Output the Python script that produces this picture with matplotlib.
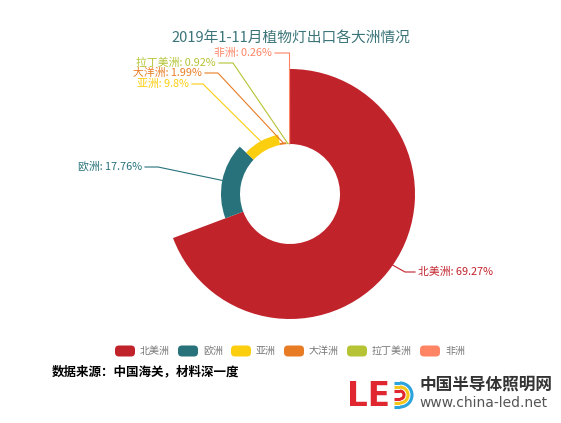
import matplotlib
matplotlib.use('Agg')
import matplotlib.pyplot as plt
from matplotlib.patches import Wedge, FancyBboxPatch, Arc
import numpy as np

plt.rcParams['font.family'] = ['Noto Sans CJK SC', 'DejaVu Sans']

# data
names = ['北美洲', '欧洲', '亚洲', '大洋洲', '拉丁美洲', '非洲']
values = [69.27, 17.76, 9.8, 1.99, 0.92, 0.26]
colors = ['#C1232B', '#27727B', '#FCCE10', '#E87C25', '#B5C334', '#FE8463']
title = '2019年1-11月植物灯出口各大洲情况'
source = '数据来源：中国海关，材料深一度'

# layout in pixels (y goes down)
W, H = 561, 423
cx, cy = 290, 194
r_in, r_out = 50, 125
# elbow of each leader line and the end of its horizontal part
elbows = [(405, 272), (158, 167), (203, 84), (218, 73), (233, 63), (289.5, 53)]
ends = [415, 145, 192, 205, 219, 275]

fig = plt.figure(figsize=(W / 100, H / 100), dpi=100)
ax = fig.add_axes([0, 0, 1, 1])
ax.set_xlim(0, W)
ax.set_ylim(H, 0)
ax.axis('off')

total = sum(values)
vmin, vmax = min(values), max(values)
start = 0.0
for i, v in enumerate(values):
    span = 360.0 * v / total
    r = r_in + (r_out - r_in) * (v - vmin) / (vmax - vmin)
    if r > r_in:
        ax.add_patch(Wedge((cx, cy), r, -90 + start, -90 + start + span,
                           width=r - r_in, facecolor=colors[i], edgecolor='none'))
    mid = np.radians(start + span / 2)
    sx = cx + r * np.sin(mid)
    sy = cy - r * np.cos(mid)
    ex, ey = elbows[i]
    ax.plot([sx, ex, ends[i]], [sy, ey, ey], color=colors[i], lw=0.8)
    pct = 100.0 * v / total
    txt = '%s: %s%%' % (names[i], ('%.2f' % pct).rstrip('0').rstrip('.'))
    if ends[i] > ex:
        ax.text(ends[i] + 3, ey, txt, color=colors[i], fontsize=7.8,
                ha='left', va='center')
    else:
        ax.text(ends[i] - 3, ey, txt, color=colors[i], fontsize=7.8,
                ha='right', va='center')
    start += span

ax.text(290.5, 39, title, color='#3B7479', fontsize=10.6, ha='center', va='center')

# legend
lx, ly = 115, 351
for i, n in enumerate(names):
    ax.add_patch(FancyBboxPatch((lx, ly - 5.5), 20, 11,
                                boxstyle='round,pad=0,rounding_size=4',
                                facecolor=colors[i], edgecolor='none'))
    ax.text(lx + 25, ly, n, color='#777777', fontsize=7.2, ha='left', va='center')
    lx = lx + 25 + len(n) * 10 + 8

ax.text(52, 372, source, color='black', fontsize=9, fontweight='bold',
        ha='left', va='center')

# logo
ax.text(347, 396, 'LE', color='#E0262F', fontsize=23.5, fontweight='bold',
        ha='left', va='center', family='DejaVu Sans')
for rad, col in [(4, '#E0262F'), (8, '#F5C61B'), (12, '#2BA3DC')]:
    ax.add_patch(Arc((400, 395), 2 * rad, 2 * rad, theta1=-90, theta2=90,
                     color=col, lw=2.2))
    ax.plot([394, 400], [395 - rad, 395 - rad], color=col, lw=2.2,
            solid_capstyle='butt')
    ax.plot([394, 400], [395 + rad, 395 + rad], color=col, lw=2.2,
            solid_capstyle='butt')
ax.text(420, 385, '中国半导体照明网', color='#333333', fontsize=12,
        fontweight='bold', ha='left', va='center')
ax.text(419, 403, 'www.china-led.net', color='#555555', fontsize=10,
        ha='left', va='center', family='DejaVu Sans')

fig.savefig('out.png', dpi=100)
